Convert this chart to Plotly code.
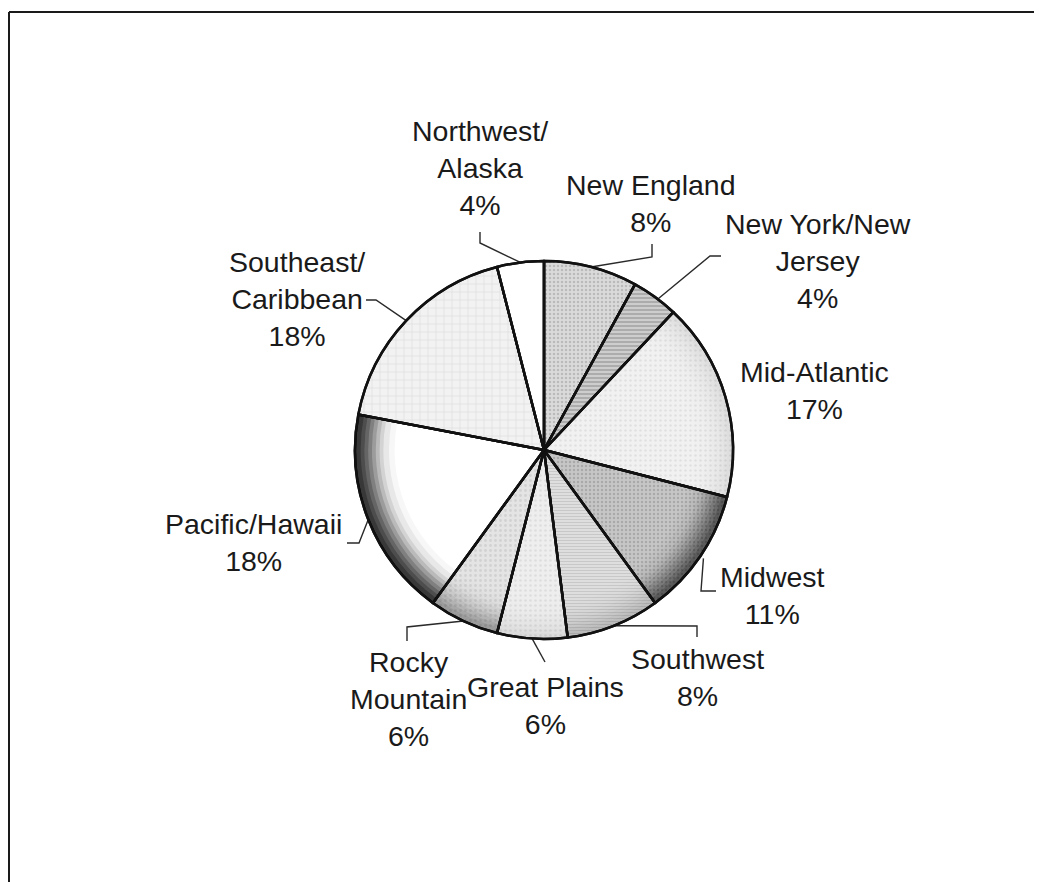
import math
import plotly.graph_objects as go

# ---------------- data ----------------
regions = ["New England", "New York/New Jersey", "Mid-Atlantic", "Midwest", "Southwest",
           "Great Plains", "Rocky Mountain", "Pacific/Hawaii", "Southeast/Caribbean",
           "Northwest/Alaska"]
shares = [8, 4, 17, 11, 8, 6, 6, 18, 18, 4]
label_texts = ["New England<br>8%", "New York/New<br>Jersey<br>4%", "Mid-Atlantic<br>17%",
               "Midwest<br>11%", "Southwest<br>8%", "Great Plains<br>6%",
               "Rocky<br>Mountain<br>6%", "Pacific/Hawaii<br>18%", "Southeast/<br>Caribbean<br>18%",
               "Northwest/<br>Alaska<br>4%"]

# ---------------- styles ----------------
W, H = 1042, 882
OFF = 8  # page body margin offset
CX, CY, R = 544 - OFF, 450 - OFF, 189
bg_colors = ["#dadada", "#cdcdcd", "#f1f1f1", "#c6c6c6", "#e0e0e0",
             "#eeeeee", "#e4e4e4", "#ffffff", "#f2f2f2", "#ffffff"]
pat_shapes = [".", "-", ".", ".", "-", ".", ".", "", "+", ""]
pat_fg = ["#9a9a9a", "#7a7a7a", "#cfcfcf", "#8c8c8c", "#b0b0b0",
          "#cccccc", "#bdbdbd", "#ffffff", "#c4c4c4", "#ffffff"]
pat_size = [4, 4, 5, 4, 3, 5, 5, 6, 8, 6]
pat_solid = [0.3, 0.4, 0.2, 0.3, 0.4, 0.2, 0.25, 0.2, 0.15, 0.2]
# rim shading strength per slice (simulates the scanned gradient near the rim)
rim_strength = [0, 0, 0.05, 0.5, 0.1, 0.05, 0.25, 0.95, 0, 0]
rim_holes = [0.97, 0.95, 0.93, 0.91, 0.89, 0.87, 0.85, 0.82, 0.79]

# label layout (pixel positions of text centres and leader elbows)
label_pos = [(651, 203), (818, 261), (814, 390), (772, 595), (697, 677),
             (545, 705), (408, 699), (253, 542), (297, 299), (480, 168)]
leader_paths = [
    [(652, 257), (652, 244)],
    [(710, 256), (721, 256)],
    None,
    [(701, 591), (716, 591)],
    [(697, 626), (697, 637)],
    [(545, 662)],
    [(407, 627), (407, 641)],
    [(359, 543), (347, 543)],
    [(376, 300), (366, 300)],
    [(480, 243), (480, 232)],
]
leader_r = [1.0, 0.93, 1.0, 1.02, 1.0, 1.0, 1.0, 1.0, 1.0, 1.0]

FONT = "Liberation Sans, Arial, Helvetica, sans-serif"

dom_x = [(CX - R) / W, (CX + R) / W]
dom_y = [(H - CY - R) / H, (H - CY + R) / H]

fig = go.Figure()

fig.add_trace(go.Pie(
    labels=regions, values=shares, sort=False, direction="clockwise", rotation=0,
    domain=dict(x=dom_x, y=dom_y), textinfo="none", hoverinfo="label+percent",
    showlegend=False,
    marker=dict(colors=bg_colors,
                line=dict(color="#111111", width=2.5),
                pattern=dict(shape=pat_shapes, fgcolor=pat_fg, bgcolor=bg_colors,
                             size=pat_size, solidity=pat_solid, fillmode="overlay")),
))

n_r = len(rim_holes)
for k, hole in enumerate(rim_holes):
    fade = 0.28 * (1 - k / n_r)
    fig.add_trace(go.Pie(
        labels=regions, values=shares, sort=False, direction="clockwise", rotation=0,
        domain=dict(x=dom_x, y=dom_y), textinfo="none", hoverinfo="skip", hole=hole,
        showlegend=False,
        marker=dict(colors=[f"rgba(0,0,0,{s * fade:.3f})" for s in rim_strength],
                    line=dict(width=0)),
    ))

fig.add_trace(go.Pie(
    labels=regions, values=shares, sort=False, direction="clockwise", rotation=0,
    domain=dict(x=dom_x, y=dom_y), textinfo="none", hoverinfo="skip",
    showlegend=False,
    marker=dict(colors=["rgba(0,0,0,0)"] * len(shares),
                line=dict(color="#111111", width=2.5)),
))

# leader lines computed from slice mid-angles
total = sum(shares)
cum = 0
for i, v in enumerate(shares):
    mid = (cum + v / 2) / total * 2 * math.pi
    cum += v
    path = leader_paths[i]
    if not path:
        continue
    rr = R * leader_r[i]
    ex = CX + rr * math.sin(mid)
    ey = CY - rr * math.cos(mid)
    xs = [ex] + [p[0] - OFF for p in path]
    ys = [ey] + [p[1] - OFF for p in path]
    fig.add_trace(go.Scatter(x=xs, y=ys, mode="lines", hoverinfo="skip", showlegend=False,
                             line=dict(color="#2a2a2a", width=1.4)))

for txt, (lx, ly) in zip(label_texts, label_pos):
    fig.add_annotation(x=lx - OFF, y=ly - OFF, xref="x", yref="y", text=txt, showarrow=False,
                       xanchor="center", yanchor="middle", align="center",
                       font=dict(family=FONT, size=28.5, color="#1a1a1a"))

# frame (top and left edges visible)
fig.add_shape(type="line", xref="x", yref="y", x0=1, y0=12 - OFF, x1=W + 5, y1=12 - OFF,
              line=dict(color="#1a1a1a", width=2))
fig.add_shape(type="line", xref="x", yref="y", x0=1, y0=12 - OFF, x1=1, y1=H + 5,
              line=dict(color="#1a1a1a", width=2))

fig.update_layout(
    width=W, height=H, margin=dict(l=0, r=0, t=0, b=0),
    paper_bgcolor="white", plot_bgcolor="rgba(0,0,0,0)",
    xaxis=dict(range=[0, W], visible=False, domain=[0, 1], fixedrange=True),
    yaxis=dict(range=[H, 0], visible=False, domain=[0, 1], fixedrange=True),
    showlegend=False,
)

fig.write_html("out.html")
